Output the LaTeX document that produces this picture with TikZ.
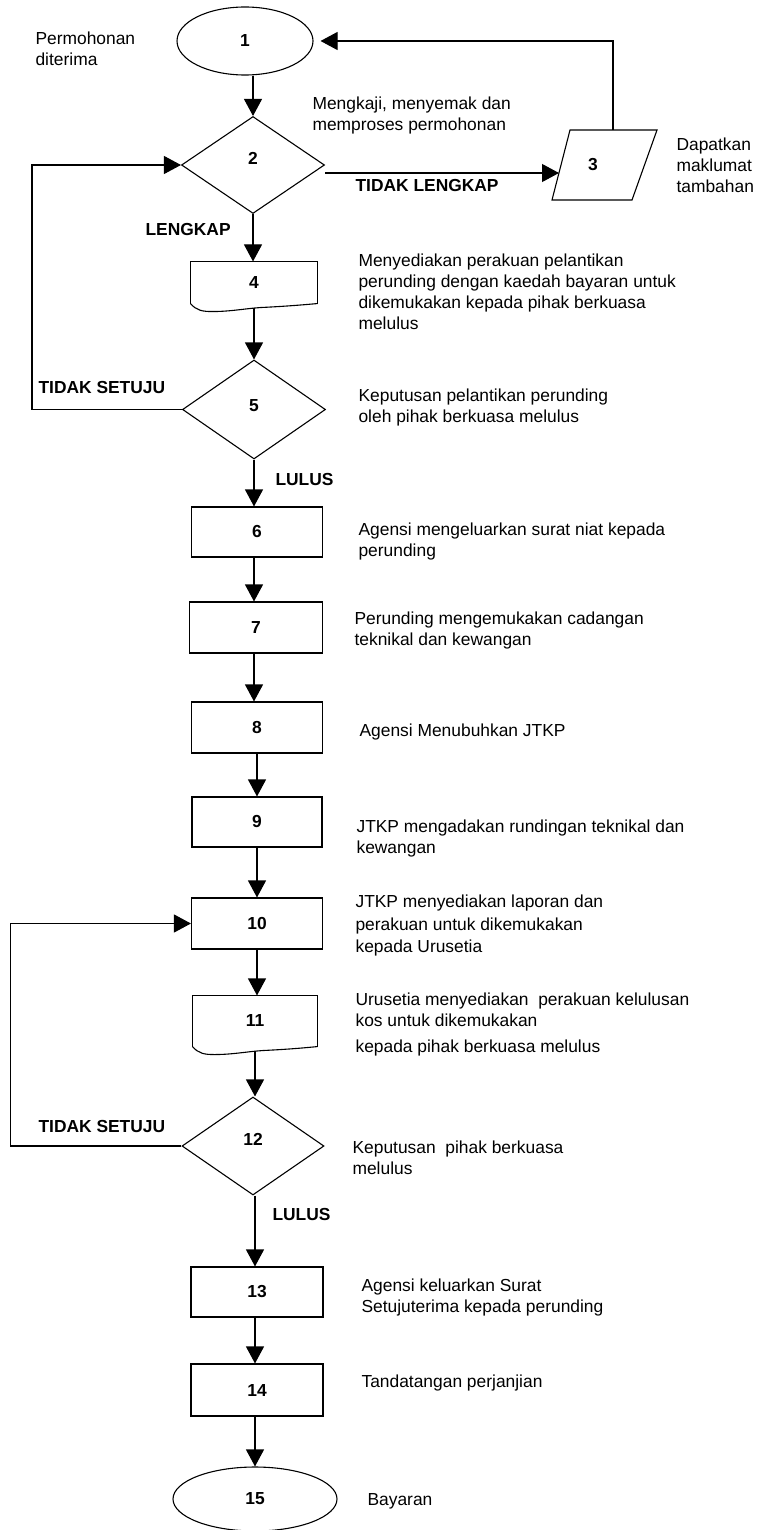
\documentclass[tikz,border=0pt]{standalone}
\usepackage{fontspec}
\setmainfont{Liberation Sans}
\usetikzlibrary{shapes.geometric,arrows.meta,calc}
\newcommand\txtsize{\fontsize{17.4pt}{21pt}\selectfont}
\newcommand\docwave[1]{%
  \draw (#1.south west) -- (#1.north west) -- (#1.north east) -- (#1.south east);
  \draw (#1.south west) .. controls ($(#1.south west)+(6,7)$) and ($(#1.south west)+(12,8)$) .. ($(#1.south west)+(22,8)$)
     .. controls ($(#1.south west)+(40,8)$) and ($(#1.south west)+(55,5)$) .. ($(#1.south west)+(70,4)$)
     .. controls ($(#1.south west)+(90,3)$) and ($(#1.south west)+(105,2)$) .. (#1.south east);
}
\begin{document}
\begin{tikzpicture}[x=1pt,y=-1pt,line width=1.1pt,
  arr/.style={-{Triangle[width=18pt,length=17pt]}},
  num/.style={font=\txtsize\bfseries},
  procbox/.style={draw,rectangle,inner sep=0pt,num},
  docbox/.style={rectangle,inner sep=0pt,num},
  decide/.style={draw,diamond,inner sep=0pt},
  term/.style={draw,ellipse,inner sep=0pt,num},
  desc/.style={anchor=west,align=left,inner sep=0pt,font=\txtsize},
  lab/.style={anchor=west,inner sep=0pt,font=\txtsize\bfseries}]
\useasboundingbox (0,0) rectangle (757,1530);

% nodes
\node[term,minimum width=136pt,minimum height=68pt] (n1) at (245,41) {1};
\node[decide,minimum width=143pt,minimum height=97pt,label={[num,yshift=7pt]center:2}] (n2) at (253,165) {};
\node[rectangle,inner sep=0pt,num,minimum width=80pt,minimum height=70pt] (n3) at (593,165) {3};
\draw (570,130) -- (657,130) -- (632,200) -- (552,200) -- cycle;
\coordinate (p3in) at (559,173);
\coordinate (p3top) at (613,130);
\node[docbox,minimum width=126pt,minimum height=41pt] (n4) at (254,282.5) {4};
\docwave{n4}
\node[decide,minimum width=143pt,minimum height=99pt,label={[num,yshift=4pt]center:5}] (n5) at (254,409.5) {};
\node[procbox,minimum width=131pt,minimum height=50pt] (n6) at (257,532) {6};
\node[procbox,minimum width=133pt,minimum height=51pt] (n7) at (256,627.5) {7};
\node[procbox,minimum width=131pt,minimum height=51pt] (n8) at (257,727.5) {8};
\node[procbox,minimum width=130pt,minimum height=50pt] (n9) at (257,822) {9};
\node[procbox,minimum width=131pt,minimum height=51pt] (n10) at (257,923.5) {10};
\node[docbox,minimum width=124pt,minimum height=50pt] (n11) at (255,1021) {11};
\docwave{n11}
\node[decide,minimum width=142pt,minimum height=98pt,label={[num,yshift=7pt]center:12}] (n12) at (253,1146) {};
\node[procbox,minimum width=132pt,minimum height=50pt] (n13) at (257,1292) {13};
\node[procbox,minimum width=132pt,minimum height=52pt] (n14) at (257,1390) {14};
\node[term,minimum width=164pt,minimum height=64pt] (n15) at (255,1499) {15};

% descriptions
\node[desc] (d1) at (35,48.5) {Permohonan\\diterima};
\node[desc] (d2) at (312,116) {Mengkaji, menyemak dan\\memproses permohonan};
\node[desc] (d3) at (676,165) {Dapatkan\\maklumat\\tambahan};
\node[desc] (d4) at (358,291.5) {Menyediakan perakuan pelantikan\\perunding dengan kaedah bayaran untuk\\dikemukakan kepada pihak berkuasa\\melulus};
\node[desc] (d5) at (358,407) {Keputusan pelantikan perunding\\oleh pihak berkuasa melulus};
\node[desc] (d6) at (358,541) {Agensi mengeluarkan surat niat kepada\\perunding};
\node[desc] (d7) at (354,630.5) {Perunding mengemukakan cadangan\\teknikal dan kewangan};
\node[desc] (d8) at (359,732) {Agensi Menubuhkan JTKP};
\node[desc] (d9) at (356,838) {JTKP mengadakan rundingan teknikal dan\\kewangan};
\node[desc] (d10) at (355,925.5) {JTKP menyediakan laporan dan\\[1.5pt]perakuan untuk dikemukakan\\[1.5pt]kepada Urusetia};
\node[desc] (d11) at (355,1024) {Urusetia menyediakan\ \ perakuan kelulusan\\kos untuk dikemukakan\\[5pt]kepada pihak berkuasa melulus};
\node[desc] (d12) at (352,1157.5) {Keputusan\ \ pihak berkuasa\\melulus};
\node[desc] (d13) at (361,1297) {Agensi keluarkan Surat\\Setujuterima kepada perunding};
\node[desc] (d14) at (361,1383) {Tandatangan perjanjian};
\node[desc] (d15) at (367,1501) {Bayaran};

% edge labels
\node[lab] (l1) at (355,186) {TIDAK LENGKAP};
\node[lab] (l2) at (145,230) {LENGKAP};
\node[lab] (l3) at (38,388) {TIDAK SETUJU};
\node[lab] (l4) at (275,480) {LULUS};
\node[lab] (l5) at (38,1126) {TIDAK SETUJU};
\node[lab] (l6) at (272,1214) {LULUS};

% connectors
\draw[arr] (n1.south -| n2.north) -- (n2.north);
\draw[arr] (n2.south) -- (n2.south |- n4.north);
\draw[arr] ([yshift=-4pt]n4.south) -- (n4.south |- n5.north);
\draw[arr] (n5.south) -- (n5.south |- n6.north);
\draw[arr] (n5.south |- n6.south) -- (n5.south |- n7.north);
\draw[arr] (n5.south |- n7.south) -- (n5.south |- n8.north);
\draw[arr] (n6.south |- n8.south) -- (n6.south |- n9.north);
\draw[arr] (n6.south |- n9.south) -- (n6.south |- n10.north);
\draw[arr] (n6.south |- n10.south) -- (n6.south |- n11.north);
\draw[arr] ([yshift=-4pt]n11.south) -- (n11.south |- n12.north);
\draw[arr] (n11.south |- n12.south) -- (n11.south |- n13.north);
\draw[arr] (n11.south |- n13.south) -- (n11.south |- n14.north);
\draw[arr] (n11.south |- n14.south) -- (n15.north);
\draw[arr] ([yshift=-8pt]n2.east) -- (p3in);
\draw[arr,shorten >=7pt] (p3top) |- (n1.east);
\draw[arr] (n5.west) -- ++(-150,0) |- (n2.west);
\draw[arr] (n12.west) -- ++(-171,0) |- (n10.west);
\end{tikzpicture}
\end{document}
